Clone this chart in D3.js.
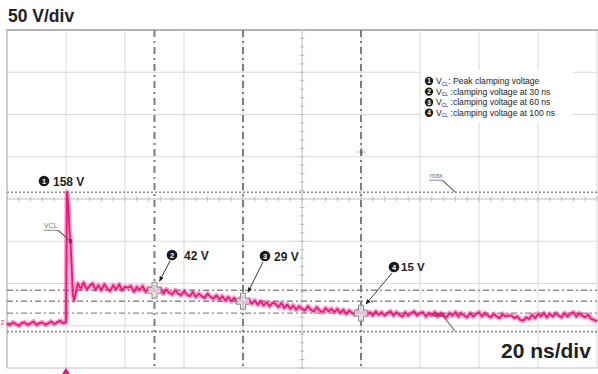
<!DOCTYPE html>
<html>
<head>
<meta charset="utf-8">
<script src="https://cdn.jsdelivr.net/npm/d3@7"></script>
<style>
  html, body { margin: 0; padding: 0; background: #fff; }
  svg { display: block; font-family: "Liberation Sans", Arial, sans-serif; }
</style>
</head>
<body>
<svg id="scope" width="598" height="374"></svg>
<script>
// ---- Data (time in ns, voltage in V) ----
const timeDomain = [-20, 180];          // 20 ns/div, 10 divisions
const voltDomain = [-50, 350];          // 50 V/div, 8 divisions

// pre-trigger samples, t = -20 .. -1 ns, 1 ns apart
const preVolts = [3, 1, 4, 2, 0, 3, 4, 1, 3, 5, 1, 3, 4, 1, 3, 5, 2, 4, 6, 3];

// the clamping spike right after the trigger
const spikeTimes = [0, 0.2, 0.35, 0.6, 0.9, 1.2, 1.5, 1.9, 2.3, 2.7];
const spikeVolts = [4, 90, 158, 150, 135, 112, 100, 72, 38, 30];

// post-spike samples, t = 3 .. 180 ns, 1 ns apart
const postVolts = [
  34, 50, 44, 51, 43, 47, 50, 43,
  48, 42, 49, 44, 41, 48, 43, 49, 42, 46,
  45, 47, 40, 46, 42, 47, 40, 45, 43, 41,
  42, 44, 38, 43, 39, 37, 42, 38, 36, 41,
  37, 35, 40, 34, 38, 35, 33, 38, 34, 32,
  36, 31, 35, 30, 34, 29, 33, 28, 32, 28,
  27, 31, 26, 30, 25, 29, 24, 28, 23, 27,
  26, 22, 27, 21, 25, 20, 24, 19, 23, 20,
  18, 23, 19, 17, 22, 18, 16, 21, 17, 20,
  16, 20, 15, 19, 14, 18, 15, 13, 18, 14,
  17, 13, 16, 12, 17, 13, 16, 12, 15, 17,
  12, 16, 13, 11, 16, 12, 15, 17, 12, 15,
  16, 11, 15, 12, 16, 11, 15, 12, 10, 15,
  12, 16, 11, 15, 12, 10, 15, 11, 14, 16,
  11, 15, 12, 10, 14, 11, 9, 14, 11, 12,
  12, 9, 11, 7, 6, 10, 8, 13, 9, 14,
  11, 15, 10, 14, 11, 15, 12, 10, 15, 11,
  14, 16, 11, 15, 12, 10, 13, 8, 7, 5
];

// measurement cursors
const markerIds    = ["1", "2", "3", "4"];
const markerTimes  = [0.35, 30, 60, 100];
const markerVolts  = [158, 42, 29, 15];
const markerLabels = ["158 V", "42 V", "29 V", "15 V"];
const lowCursorVolt = -7;
const vclPointTime = 1.5, vclPointVolt = 100;

const legendLines = [
  ": Peak clamping  voltage",
  " :clamping voltage at 30 ns",
  " :clamping voltage at 60 ns",
  " :clamping voltage at 100 ns"
];

const voltsPerDiv = "50 V/div";
const timePerDiv  = "20 ns/div";

// ---- Build the trace ----
const trace = [];
preVolts.forEach((v, i) => trace.push([-20 + i, v]));
spikeTimes.forEach((t, i) => trace.push([t, spikeVolts[i]]));
postVolts.forEach((v, i) => trace.push([3 + i, v]));

// ---- Scales ----
const x = d3.scaleLinear().domain(timeDomain).range([7, 597]);
const y = d3.scaleLinear().domain(voltDomain).range([368, 30]);

const svg = d3.select("#scope");
const pink = "#e8197c";

// ---- Grid ----
const grid = svg.append("g");
const xTicks = d3.range(timeDomain[0], timeDomain[1] + 1, 20);
const yTicks = d3.range(voltDomain[0], voltDomain[1] + 1, 50);

grid.selectAll("line.v").data(xTicks).join("line")
  .attr("x1", d => x(d)).attr("x2", d => x(d))
  .attr("y1", y.range()[1]).attr("y2", y.range()[0])
  .attr("stroke", "#d9d9d9").attr("stroke-width", 1);
grid.selectAll("line.h").data(yTicks).join("line")
  .attr("x1", x.range()[0]).attr("x2", x.range()[1])
  .attr("y1", d => y(d)).attr("y2", d => y(d))
  .attr("stroke", "#d9d9d9").attr("stroke-width", 1);

// frame
grid.append("line").attr("x1", 6).attr("x2", 598).attr("y1", 30).attr("y2", 30)
  .attr("stroke", "#b4b4b4").attr("stroke-width", 2);
grid.append("line").attr("x1", 7).attr("x2", 7).attr("y1", 30).attr("y2", 368)
  .attr("stroke", "#c4c4c4").attr("stroke-width", 1.5);
grid.append("line").attr("x1", 7).attr("x2", 598).attr("y1", 368).attr("y2", 368)
  .attr("stroke", "#cfcfcf").attr("stroke-width", 1);

// centre axes with minor ticks
const cx = x(80), cy = y(150);
const minorX = d3.range(timeDomain[0], timeDomain[1] + 0.01, 4);
const minorY = d3.range(voltDomain[0], voltDomain[1] + 0.01, 10);
grid.append("line").attr("x1", cx).attr("x2", cx).attr("y1", 30).attr("y2", 368)
  .attr("stroke", "#cfcfcf");
grid.append("line").attr("x1", 7).attr("x2", 597).attr("y1", cy).attr("y2", cy)
  .attr("stroke", "#cfcfcf");
grid.selectAll("line.mx").data(minorX).join("line")
  .attr("x1", d => x(d)).attr("x2", d => x(d))
  .attr("y1", cy - 2.5).attr("y2", cy + 2.5)
  .attr("stroke", "#bdbdbd");
grid.selectAll("line.my").data(minorY).join("line")
  .attr("x1", cx - 2.5).attr("x2", cx + 2.5)
  .attr("y1", d => y(d)).attr("y2", d => y(d))
  .attr("stroke", "#bdbdbd");

// ---- Cursors ----
const cur = svg.append("g");
// horizontal dash-dot cursors at the three clamping levels
cur.selectAll("line.hc").data(markerVolts.slice(1)).join("line")
  .attr("x1", 7).attr("x2", 597)
  .attr("y1", d => y(d)).attr("y2", d => y(d))
  .attr("stroke", "#8c8c8c").attr("stroke-width", 1.3)
  .attr("stroke-dasharray", "6,3,2,3");
// dotted peak cursor and lower cursor
cur.selectAll("line.dc").data([markerVolts[0], lowCursorVolt]).join("line")
  .attr("x1", 7).attr("x2", 597)
  .attr("y1", d => y(d)).attr("y2", d => y(d))
  .attr("stroke", "#8a8a8a").attr("stroke-width", 1.6)
  .attr("stroke-dasharray", "2,2");
// vertical dash-dot time cursors
cur.selectAll("line.vc").data(markerTimes.slice(1)).join("line")
  .attr("x1", d => x(d)).attr("x2", d => x(d))
  .attr("y1", 30).attr("y2", 368)
  .attr("stroke", "#7d7d7d").attr("stroke-width", 2)
  .attr("stroke-dasharray", "7,4,2,4");

// "max" cursor tag
const maxX = x(132);
cur.append("text").attr("x", maxX - 26).attr("y", y(158) - 14)
  .attr("font-size", 7).attr("fill", "#777").text("max");
cur.append("line").attr("x1", maxX - 26).attr("x2", maxX - 13)
  .attr("y1", y(158) - 12).attr("y2", y(158) - 12).attr("stroke", "#888");
cur.append("line").attr("x1", maxX - 13).attr("x2", maxX)
  .attr("y1", y(158) - 12).attr("y2", y(158)).attr("stroke", "#777").attr("stroke-width", 1.2);

// lower cursor tag
const minX = x(126);
cur.append("rect").attr("x", minX - 4).attr("y", y(13) - 2).attr("width", 11).attr("height", 4)
  .attr("fill", "#6f6f6f");
cur.append("line").attr("x1", minX + 6).attr("x2", minX + 17)
  .attr("y1", y(13) + 2).attr("y2", y(lowCursorVolt) - 1)
  .attr("stroke", "#777").attr("stroke-width", 1.2);

// ---- Trace ----
const line = d3.line().x(d => x(d[0])).y(d => y(d[1]));
svg.append("path").datum(trace).attr("d", line)
  .attr("fill", "none").attr("stroke", pink).attr("stroke-opacity", 0.4)
  .attr("stroke-width", 5).attr("stroke-linejoin", "round");
svg.append("path").datum(trace).attr("d", line)
  .attr("fill", "none").attr("stroke", pink)
  .attr("stroke-width", 1.8).attr("stroke-linejoin", "round");

// channel and trigger markers
svg.append("text").attr("x", 0.5).attr("y", y(4) + 2.5)
  .attr("font-size", 7).attr("fill", pink).text("2");
svg.append("path")
  .attr("d", `M${x(0)},${368} l-4,6 h8 z`).attr("fill", pink);

// ---- Measurement point markers (cross shaped) ----
const crossPath = "M-2.5,-8 h5 v5 h4 v6 h-4 v5 h-5 v-5 h-4 v-6 h4 z";
svg.selectAll("path.cross").data(markerTimes.slice(1)).join("path")
  .attr("transform", (d, i) => `translate(${x(d)},${y(markerVolts[i + 1])})`)
  .attr("d", crossPath)
  .attr("fill", "#e4e4e4").attr("fill-opacity", 0.8)
  .attr("stroke", "#8a8a8a").attr("stroke-width", 1);

// VCL tag on the spike
svg.append("text").attr("x", 44).attr("y", y(vclPointVolt) - 13)
  .attr("font-size", 7).attr("fill", "#777").text("VCL");
svg.append("line").attr("x1", 44).attr("x2", 58)
  .attr("y1", y(vclPointVolt) - 11).attr("y2", y(vclPointVolt) - 11).attr("stroke", "#888");
svg.append("line").attr("x1", 58).attr("x2", x(vclPointTime))
  .attr("y1", y(vclPointVolt) - 11).attr("y2", y(vclPointVolt))
  .attr("stroke", "#666").attr("stroke-width", 1.2);
svg.append("rect").attr("x", x(vclPointTime) - 1.5).attr("y", y(vclPointVolt) - 2)
  .attr("width", 3).attr("height", 4).attr("fill", "#c0105e");

// ---- Numbered callouts ----
const defs = svg.append("defs");
defs.append("marker").attr("id", "arrow").attr("viewBox", "0 0 10 10")
  .attr("refX", 9).attr("refY", 5).attr("markerWidth", 6).attr("markerHeight", 6)
  .attr("orient", "auto")
  .append("path").attr("d", "M0,1 L10,5 L0,9 z").attr("fill", "#222");

function badge(g, cxp, cyp, r, label, fs) {
  g.append("circle").attr("cx", cxp).attr("cy", cyp).attr("r", r).attr("fill", "#1a1a1a");
  g.append("text").attr("x", cxp).attr("y", cyp + fs * 0.36)
    .attr("text-anchor", "middle").attr("font-size", fs).attr("font-weight", "bold")
    .attr("fill", "#fff").text(label);
}

// label placement for each callout
const calloutBadge = [[44, 181], [172, 255], [265, 256], [394, 267]];
const calloutText  = [[53, 185.5], [184, 259.5], [274, 260.5], [401, 271]];
const calloutSize  = [12, 12, 12, 11.5];
const ann = svg.append("g");
markerIds.forEach((id, i) => {
  badge(ann, calloutBadge[i][0], calloutBadge[i][1], 5.3, id, 7.5);
  ann.append("text").attr("x", calloutText[i][0]).attr("y", calloutText[i][1])
    .attr("font-size", calloutSize[i]).attr("font-weight", "bold")
    .attr("fill", "#1f1f1f").text(markerLabels[i]);
  if (i > 0) {
    const px = x(markerTimes[i]), py = y(markerVolts[i]);
    ann.append("line")
      .attr("x1", calloutBadge[i][0] - 2).attr("y1", calloutBadge[i][1] + 6)
      .attr("x2", px + 5).attr("y2", py - 9)
      .attr("stroke", "#222").attr("stroke-width", 0.9)
      .attr("marker-end", "url(#arrow)");
  }
});

// ---- Legend ----
const leg = svg.append("g");
leg.append("rect").attr("x", 421).attr("y", 70).attr("width", 152).attr("height", 52)
  .attr("fill", "#fff");
legendLines.forEach((t, i) => {
  const ly = 84 + i * 10.6;
  badge(leg, 429, ly - 3, 4.2, markerIds[i], 6.5);
  const tx = leg.append("text").attr("x", 436).attr("y", ly)
    .attr("font-size", 8.6).attr("fill", "#222");
  tx.append("tspan").text("V");
  tx.append("tspan").attr("font-size", 5).attr("dy", 1.5).text("CL");
  tx.append("tspan").attr("dy", -1.5).text(t);
});

// small crosshair pointer on the screen
svg.append("path").attr("d", "M362,148 v8 M358,152 h8")
  .attr("stroke", "#555").attr("stroke-width", 1).attr("stroke-dasharray", "1,1");

// ---- Scale captions ----
svg.append("text").attr("x", 8).attr("y", 22)
  .attr("font-size", 17.5).attr("font-weight", "bold").attr("fill", "#222")
  .text(voltsPerDiv);
svg.append("text").attr("x", 501).attr("y", 358)
  .attr("font-size", 21).attr("font-weight", "bold").attr("fill", "#222")
  .text(timePerDiv);
</script>
</body>
</html>
